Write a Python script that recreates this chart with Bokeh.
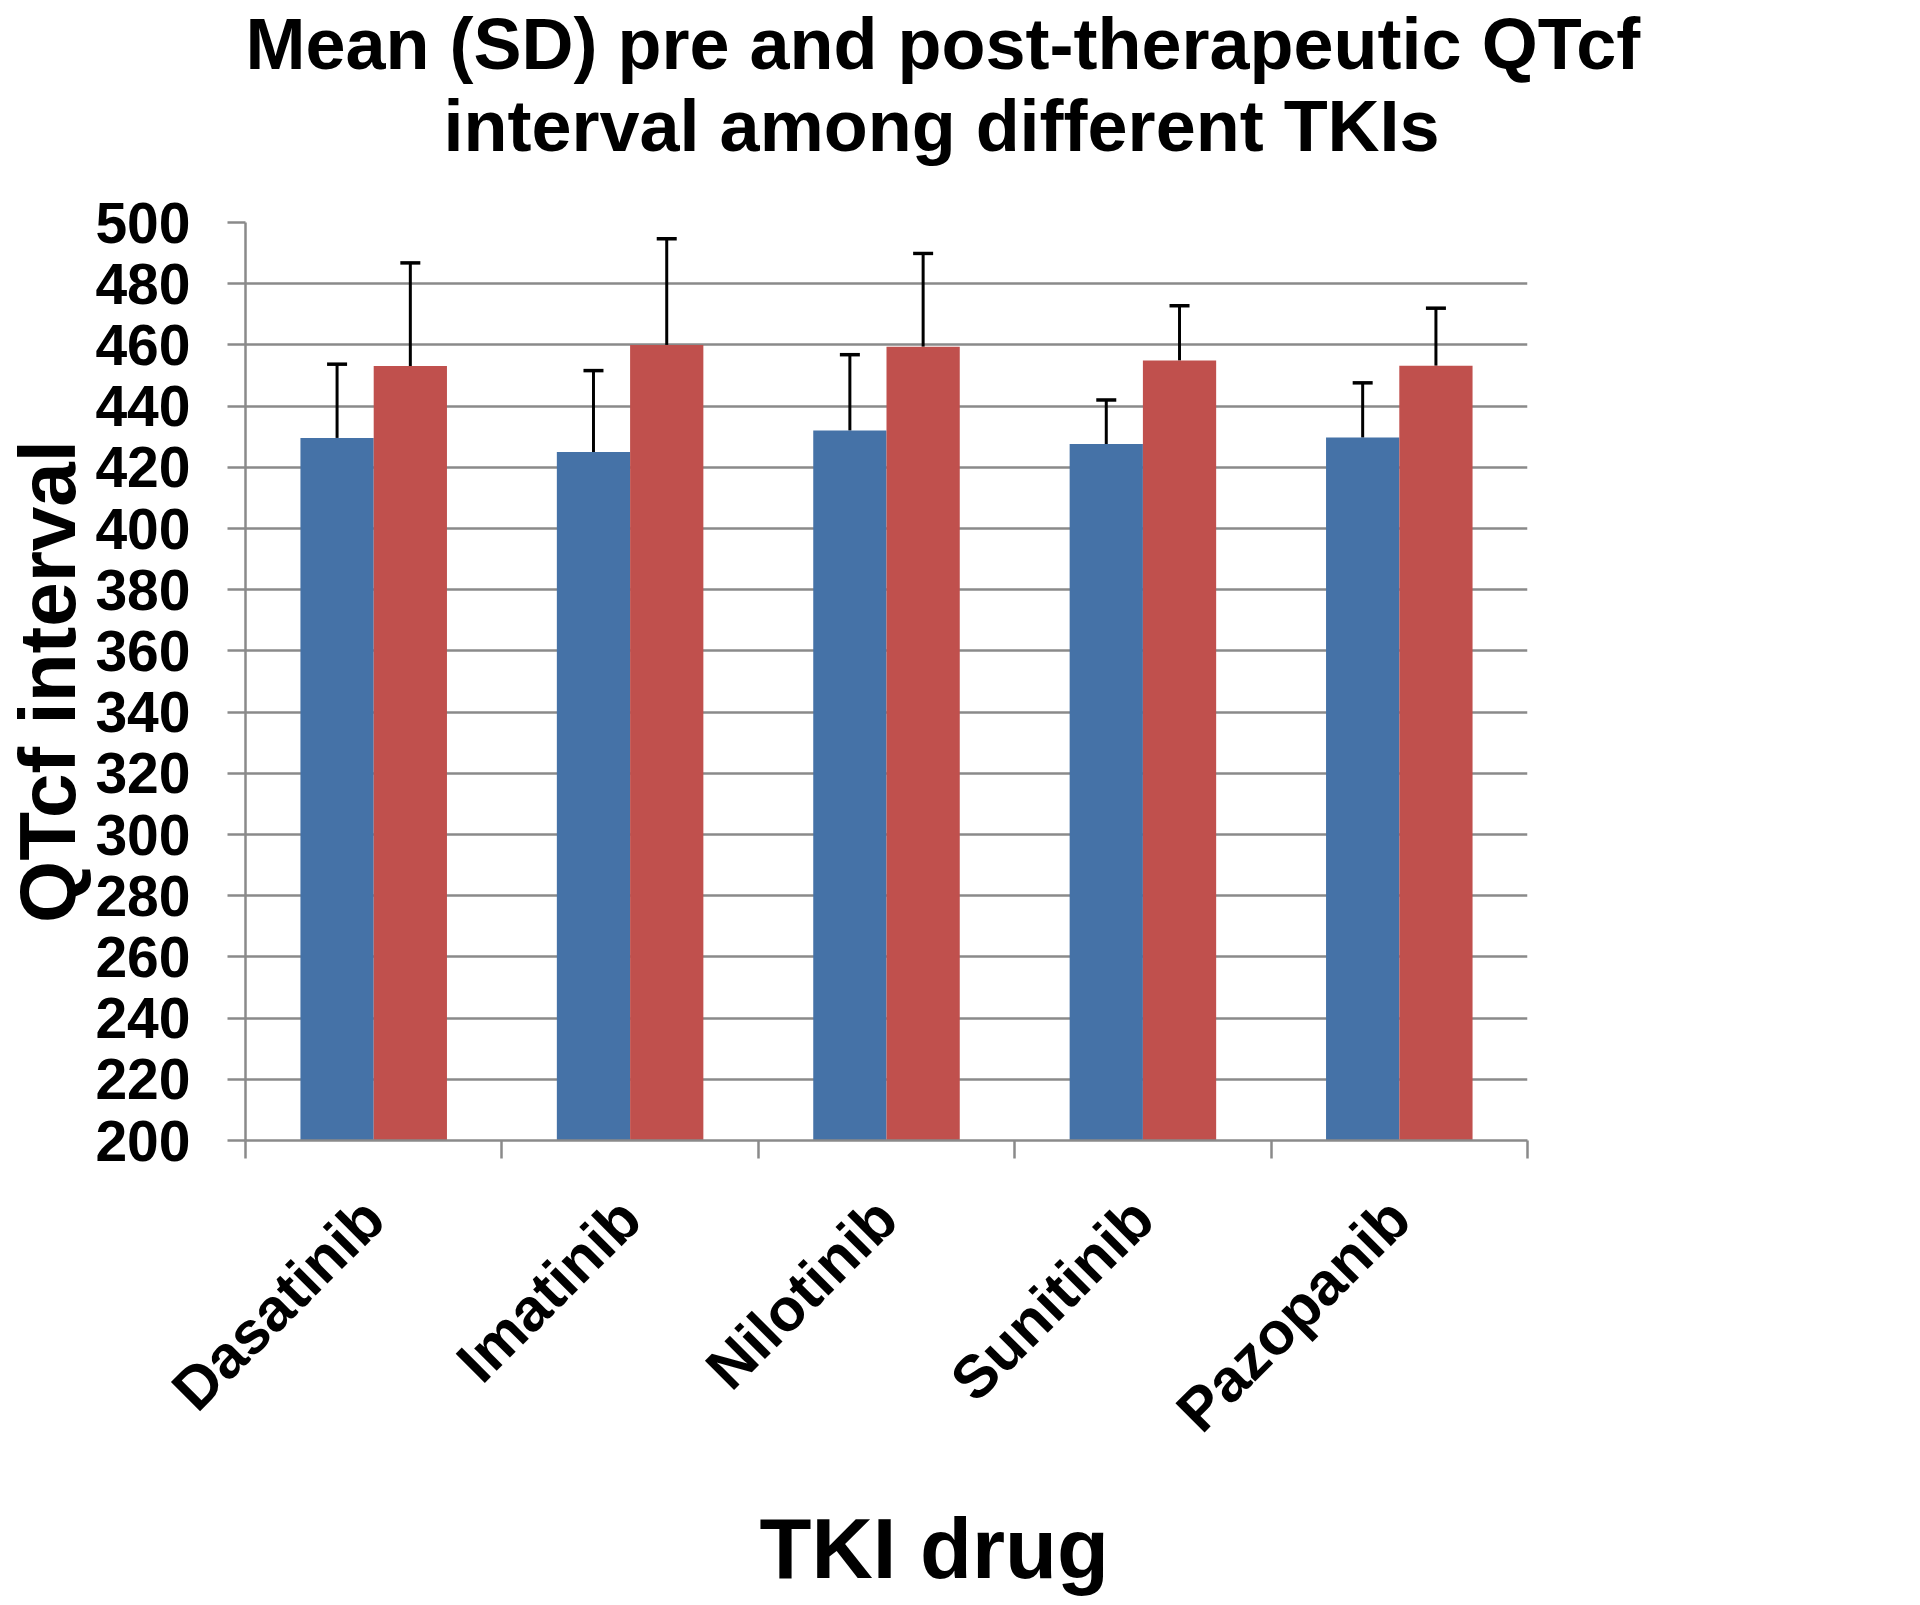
import math
from bokeh.plotting import figure
from bokeh.models import (ColumnDataSource, Whisker, TeeHead, Legend, LegendItem,
                          FixedTicker, Title)
from bokeh.embed import file_html
from bokeh.resources import INLINE

# ---------------- data ----------------
drugs = ["Dasatinib", "Imatinib", "Nilotinib", "Sunitinib", "Pazopanib"]
pre_mean = [429.6, 425.0, 432.0, 427.6, 429.7]
pre_sd = [24.1, 26.6, 24.8, 14.4, 17.9]
post_mean = [453.1, 460.0, 459.4, 454.9, 453.2]
post_sd = [33.7, 34.7, 30.5, 17.9, 18.8]
y_ticks = [200, 220, 240, 260, 280, 300, 320, 340, 360, 380, 400, 420, 440, 460, 480, 500]
series_names = ["Pre QTc", "Post QTc"]
title_lines = ["Mean (SD) pre and post-therapeutic QTcf", "interval among different TKIs"]
x_title = "TKI drug"
y_title = "QTcf interval"

FONT = "Liberation Sans"
BLUE = "#4572A7"
RED = "#C0504D"
GRID = "#8a8a8a"

n = len(drugs)
bar_w = 1 / 3.5
centers = [i + 0.5 for i in range(n)]
pre_x = [c - bar_w / 2 for c in centers]
post_x = [c + bar_w / 2 for c in centers]

pre_src = ColumnDataSource(dict(x=pre_x, top=pre_mean,
                                upper=[m + s for m, s in zip(pre_mean, pre_sd)]))
post_src = ColumnDataSource(dict(x=post_x, top=post_mean,
                                 upper=[m + s for m, s in zip(post_mean, post_sd)]))

p = figure(frame_width=1282, frame_height=918, x_range=(0, n),
           y_range=(y_ticks[0], y_ticks[-1]),
           output_backend="svg", toolbar_location=None,
           min_border_left=244, min_border_right=387, min_border_top=222, min_border_bottom=460)
p.outline_line_color = None


def title(text, size, offset, standoff=0):
    return Title(text=text, text_font=FONT, text_font_size=size, text_font_style="bold",
                 text_color="black", align="left", offset=offset, standoff=standoff,
                 vertical_align="bottom")


# title: line 1 is the outermost panel; spacer and line 2 stack from the frame upward
p.title = title(title_lines[0], "72px", 0)
p.add_layout(Title(text=" ", text_font_size="2px", standoff=53), "above")
p.add_layout(title(title_lines[1], "72px", 198), "above")

r_pre = p.vbar(x="x", top="top", bottom=y_ticks[0], width=bar_w, source=pre_src,
               fill_color=BLUE, line_color=None)
r_post = p.vbar(x="x", top="top", bottom=y_ticks[0], width=bar_w, source=post_src,
                fill_color=RED, line_color=None)

for src in (pre_src, post_src):
    p.add_layout(Whisker(source=src, base="x", lower="top", upper="upper", dimension="height",
                         line_color="black", line_width=3,
                         upper_head=TeeHead(size=20, line_color="black", line_width=3.5),
                         lower_head=None))

p.xgrid.visible = False
p.ygrid.ticker = FixedTicker(ticks=y_ticks)
p.ygrid.grid_line_color = GRID
p.ygrid.grid_line_width = 2.5

p.yaxis.ticker = FixedTicker(ticks=y_ticks)
p.yaxis.axis_line_color = GRID
p.yaxis.axis_line_width = 2.5
p.yaxis.major_tick_line_color = GRID
p.yaxis.major_tick_line_width = 2.5
p.yaxis.major_tick_out = 18
p.yaxis.major_tick_in = 0
p.yaxis.minor_tick_line_color = None
p.yaxis.major_label_text_font = FONT
p.yaxis.major_label_text_font_size = "57px"
p.yaxis.major_label_text_font_style = "bold"
p.yaxis.major_label_text_color = "black"
p.yaxis.major_label_standoff = 37
p.yaxis.axis_label = y_title
p.yaxis.axis_label_text_font = FONT
p.yaxis.axis_label_text_font_size = "80px"
p.yaxis.axis_label_text_font_style = "bold"
p.yaxis.axis_label_text_color = "black"
p.yaxis.axis_label_standoff = 0

p.xaxis.ticker = FixedTicker(ticks=centers, minor_ticks=list(range(n + 1)))
p.xaxis.major_label_overrides = {c: d for c, d in zip(centers, drugs)}
p.xaxis.major_tick_out = 0
p.xaxis.major_tick_in = 0
p.xaxis.major_tick_line_color = None
p.xaxis.minor_tick_out = 18
p.xaxis.minor_tick_in = 0
p.xaxis.minor_tick_line_color = GRID
p.xaxis.minor_tick_line_width = 2.5
p.xaxis.axis_line_color = GRID
p.xaxis.axis_line_width = 2.5
p.xaxis.major_label_orientation = math.pi / 4
p.xaxis.major_label_text_font = FONT
p.xaxis.major_label_text_font_size = "60px"
p.xaxis.major_label_text_font_style = "bold"
p.xaxis.major_label_text_color = "black"
p.xaxis.major_label_standoff = 50

# x-axis title below the tick labels (spacer first, nearest the axis)
p.add_layout(Title(text=" ", text_font_size="2px", standoff=23), "below")
p.add_layout(title(x_title, "85px", 514), "below")

legend = Legend(items=[LegendItem(label=series_names[0], renderers=[r_pre]),
                       LegendItem(label=series_names[1], renderers=[r_post])],
                location="center_right", orientation="vertical",
                title=" ", title_text_font_size="2px", title_standoff=422,
                label_text_font=FONT, label_text_font_size="64px", label_text_color="black",
                glyph_width=32, glyph_height=32, label_standoff=15, spacing=21,
                padding=0, margin=7, border_line_color=None, background_fill_alpha=0)
p.add_layout(legend, "right")

open("out.html", "w").write(file_html(p, INLINE))
